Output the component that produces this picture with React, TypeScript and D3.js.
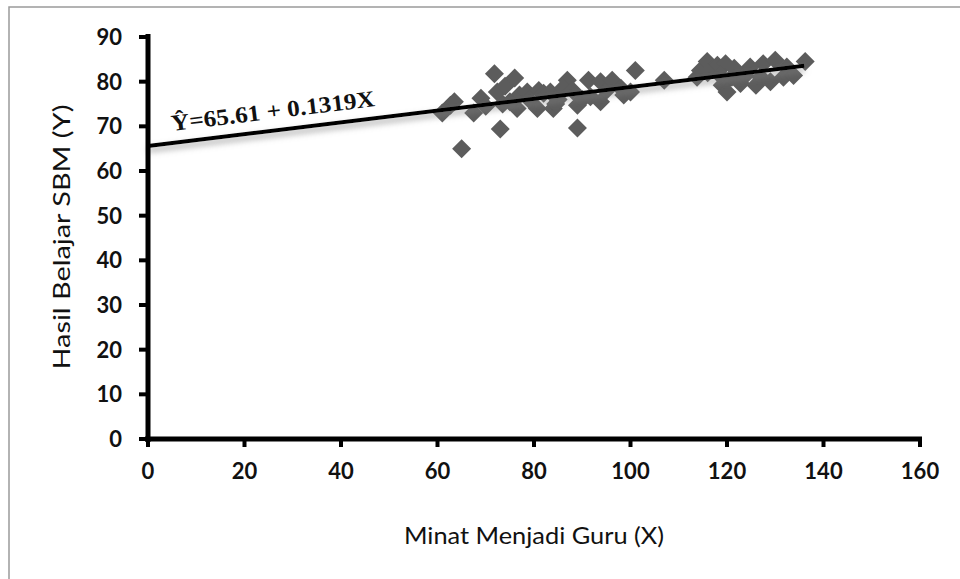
import React from "react";
import * as d3 from "d3";

const xValues = [61, 62.7, 63.5, 65, 67.5, 69, 70, 71.8, 72.4, 73, 73.5, 74, 76, 76.5, 77, 78.6, 80.7, 81, 82, 83.4, 84, 85, 86.9, 86, 88, 89, 89, 90, 91.3, 91.7, 93.8, 93.8, 95, 96.2, 98, 98.6, 100, 101, 107, 113.8, 114.5, 115.9, 117, 118, 119.7, 119, 120, 121, 122.8, 123.8, 124.8, 126, 127, 127.5, 129, 130, 131.7, 132.4, 133.8, 136.2, 75, 79, 84.5, 116, 118.5, 121.5];
const yValues = [73, 74.7, 75.5, 65, 73, 76.3, 74.5, 81.8, 77.7, 69.4, 75, 79, 80.8, 74, 77, 77.7, 74, 78, 77.4, 77.7, 74, 76, 80.3, 78.5, 78, 69.6, 74.7, 76, 80.3, 76.6, 80, 75.5, 78, 80.3, 78.5, 77, 77.7, 82.5, 80.3, 81, 82.5, 84.5, 83, 83.7, 84, 79.2, 77.7, 81, 79.6, 81.4, 83.3, 79.2, 81, 84, 80, 84.8, 81, 83.3, 81.4, 84.5, 75.5, 76, 75, 82, 81.5, 83];
const xTicks = [0, 20, 40, 60, 80, 100, 120, 140, 160];
const yTicks = [0, 10, 20, 30, 40, 50, 60, 70, 80, 90];
const intercept = 65.61;
const slope = 0.1319;
const lineRange = [0, 136];
const equationLabel = "Ŷ=65.61 + 0.1319X";
const xTitle = "Minat Menjadi Guru (X)";
const yTitle = "Hasil Belajar SBM (Y)";

export default function App() {
  const x = d3.scaleLinear().domain([0, 160]).range([148, 920]);
  const y = d3.scaleLinear().domain([0, 90]).range([439, 37]);
  const pts = xValues.map((v, i) => [v, yValues[i]] as [number, number]);
  const r = 9.5;
  const diamond = (cx: number, cy: number) =>
    `M${cx},${cy - r}L${cx + r},${cy}L${cx},${cy + r}L${cx - r},${cy}Z`;
  const line = d3
    .line<number>()
    .x((d) => x(d))
    .y((d) => y(intercept + slope * d));
  const tickFont = "Lato, 'Open Sans', sans-serif";
  const angle =
    (Math.atan2(y(intercept + slope * 136) - y(intercept), x(136) - x(0)) * 180) / Math.PI;
  return (
    <svg
      width={960}
      height={579}
      style={{ position: "absolute", left: 0, top: 0, background: "#fff" }}
    >
      <defs>
        <filter id="sh" x="-10%" y="-200%" width="120%" height="500%">
          <feDropShadow dx="0" dy="4" stdDeviation="3" floodColor="#808080" floodOpacity="0.7" />
        </filter>
      </defs>
      <rect x={9} y={7} width={1000} height={1000} fill="#fff" stroke="#9a9a9a" strokeWidth={1.5} />
      {pts.map((p, i) => (
        <path key={i} d={diamond(x(p[0]), y(p[1]))} fill="#5c5c5c" />
      ))}
      <path
        d={line(lineRange) || ""}
        stroke="#000"
        strokeWidth={4}
        fill="none"
        filter="url(#sh)"
      />
      <line x1={x(0)} x2={x(0)} y1={y(90) - 3} y2={y(0) + 3} stroke="#000" strokeWidth={5} />
      <line x1={x(0) - 3} x2={x(160) + 2} y1={y(0)} y2={y(0)} stroke="#000" strokeWidth={5} />
      {yTicks.map((t) => (
        <g key={"y" + t}>
          <line x1={x(0) - 9} x2={x(0)} y1={y(t)} y2={y(t)} stroke="#000" strokeWidth={4} />
          <text
            x={122}
            y={y(t)}
            dy="0.36em"
            textAnchor="end"
            fontFamily={tickFont}
            fontWeight="bold"
            fontSize={22}
            fill="#111"
          >
            {t}
          </text>
        </g>
      ))}
      {xTicks.map((t) => (
        <g key={"x" + t}>
          <line x1={x(t)} x2={x(t)} y1={y(0)} y2={y(0) + 8} stroke="#000" strokeWidth={4} />
          <text
            x={x(t)}
            y={479}
            textAnchor="middle"
            fontFamily={tickFont}
            fontWeight="bold"
            fontSize={22}
            fill="#111"
          >
            {t}
          </text>
        </g>
      ))}
      <text
        x={534}
        y={544}
        textAnchor="middle"
        fontFamily={tickFont}
        fontSize={24}
        textLength={260}
        lengthAdjust="spacingAndGlyphs"
        fill="#111"
      >
        {xTitle}
      </text>
      <text
        transform={`translate(70,237) rotate(-90)`}
        textAnchor="middle"
        fontFamily={tickFont}
        fontSize={24}
        textLength={265}
        lengthAdjust="spacingAndGlyphs"
        fill="#111"
      >
        {yTitle}
      </text>
      <text
        transform={`translate(172,131) rotate(${angle})`}
        fontFamily="'Liberation Serif', 'Times New Roman', serif"
        fontWeight="bold"
        fontSize={23}
        textLength={205}
        lengthAdjust="spacingAndGlyphs"
        fill="#111"
      >
        {equationLabel}
      </text>
    </svg>
  );
}
